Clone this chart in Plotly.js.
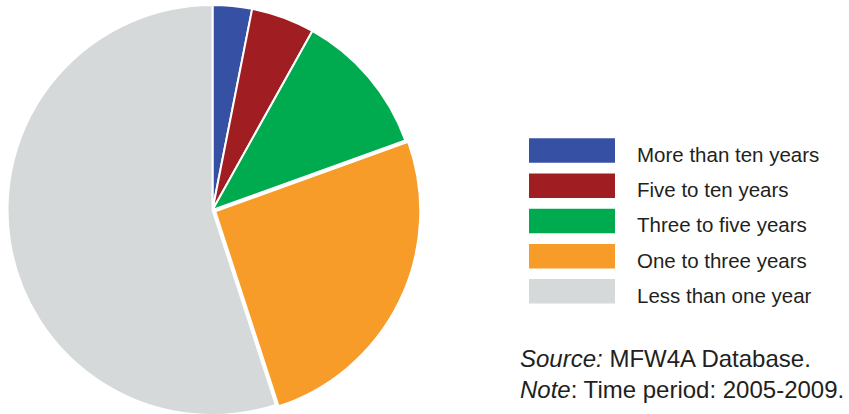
<!DOCTYPE html>
<html>
<head>
<meta charset="utf-8">
<script src="https://cdn.plot.ly/plotly-3.0.1.min.js"></script>
<style>
html, body { margin: 0; padding: 0; background: #ffffff; overflow: hidden; }
#chart { width: 849px; height: 420px; }
</style>
</head>
<body>
<div id="chart"></div>
<script>
// Data
var categories = ["More than ten years", "Five to ten years", "Three to five years", "One to three years", "Less than one year"];
var shares = [3.1, 5.0, 11.4, 25.5, 55.0];
var sliceColors = ["#3651a4", "#a01d22", "#00aa4f", "#f79c29", "#d5d9da"];
var pulls = [0, 0, 0, 0.015, 0];
var sourceText = "<i>Source:</i> MFW4A Database.";
var noteText = "<i>Note</i>: Time period: 2005-2009.";

var W = 849, H = 420;
var cx = 212.5, cyTop = 210, R = 205;
var maxPull = Math.max.apply(null, pulls);
var D = 2 * R * (1 + maxPull);

var trace = {
  type: "pie",
  labels: categories,
  values: shares,
  sort: false,
  direction: "clockwise",
  rotation: 0,
  pull: pulls,
  textinfo: "none",
  hoverinfo: "none",
  showlegend: false,
  marker: { colors: sliceColors, line: { color: "#ffffff", width: 2 } },
  domain: {
    x: [(cx - D / 2) / W, (cx + D / 2) / W],
    y: [((H - cyTop) - D / 2) / H, ((H - cyTop) + D / 2) / H]
  }
};

var shapes = [];
var annotations = [];
var swX0 = 529, swX1 = 615, swTop0 = 138.3, swH = 24.5, rowStep = 35.2;
var textColor = "#231f20";
var fontFam = "Liberation Sans, Arial, Helvetica, sans-serif";
for (var i = 0; i < categories.length; i++) {
  var rowTop = swTop0 + i * rowStep;
  shapes.push({
    type: "rect", xref: "paper", yref: "paper",
    x0: swX0 / W, x1: swX1 / W,
    y0: (H - rowTop - swH) / H, y1: (H - rowTop) / H,
    fillcolor: sliceColors[i], line: { width: 0 }, layer: "above"
  });
  annotations.push({
    xref: "paper", yref: "paper",
    x: 635 / W, y: (H - (rowTop + swH / 2 + 4)) / H,
    xanchor: "left", yanchor: "middle",
    text: categories[i], showarrow: false,
    font: { family: fontFam, size: 20.5, color: textColor }
  });
}
annotations.push({
  xref: "paper", yref: "paper",
  x: 518 / W, y: (H - 358) / H,
  xanchor: "left", yanchor: "middle",
  text: sourceText, showarrow: false,
  font: { family: fontFam, size: 24, color: textColor }
});
annotations.push({
  xref: "paper", yref: "paper",
  x: 518 / W, y: (H - 389) / H,
  xanchor: "left", yanchor: "middle",
  text: noteText, showarrow: false,
  font: { family: fontFam, size: 24, color: textColor }
});

var layout = {
  width: W, height: H,
  margin: { l: 0, r: 0, t: 0, b: 0, pad: 0 },
  paper_bgcolor: "#ffffff",
  plot_bgcolor: "#ffffff",
  showlegend: false,
  shapes: shapes,
  annotations: annotations
};

Plotly.newPlot("chart", [trace], layout, { displayModeBar: false, staticPlot: true });
</script>
</body>
</html>
